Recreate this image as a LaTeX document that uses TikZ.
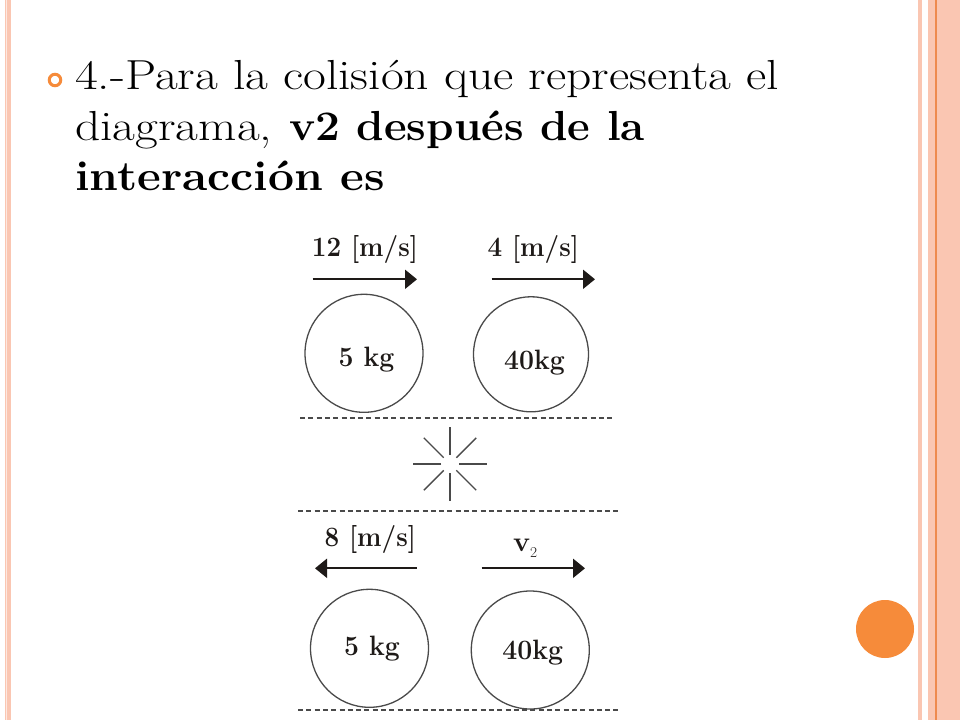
\documentclass[tikz,border=0pt]{standalone}
\usepackage{fontspec}
\usetikzlibrary{arrows.meta,calc}
\definecolor{slideorange}{HTML}{F68B3A}
\definecolor{borderpink}{HTML}{FAC6B2}
\definecolor{borderline}{HTML}{EE8A4E}
\definecolor{inkgray}{HTML}{4A4A4A}
\definecolor{inkdark}{HTML}{1E1A18}
\begin{document}
\begin{tikzpicture}[x=1pt,y=-1pt,
  ball/.style={circle, draw=inkgray, line width=1.3pt, minimum size=118pt, inner sep=0pt},
  masstext/.style={anchor=base, inner sep=0pt, font=\fontsize{28}{30}\selectfont\bfseries, xscale=0.95, transform shape, text=inkdark},
  vel/.style={draw=inkdark, line width=2pt, -{Triangle[length=12pt,width=19pt]}},
  lbl/.style={anchor=base, inner sep=0pt, font=\fontsize{28}{30}\selectfont\bfseries, xscale=0.93, transform shape, text=inkdark},
  ground/.style={draw=inkgray, line width=1.4pt, dash pattern=on 5pt off 3.3pt},
  ray/.style={draw=inkgray, line width=1.4pt},
  titleline/.style={anchor=base west, inner sep=0pt, font=\fontsize{42}{50}\selectfont, xscale=1.18, transform shape, text=black},
  titlebold/.style={anchor=base west, inner sep=0pt, font=\fontsize{42}{50}\selectfont\bfseries, xscale=1.05, transform shape, text=black}
]
\useasboundingbox (0,0) rectangle (960,720);
\fill[white] (0,0) rectangle (960,720);
% borders
\fill[borderpink] (5,0) rectangle (11,720);
\fill[white!60!borderpink] (6.3,0) rectangle (7.3,720);
\fill[borderpink] (917.5,0) rectangle (921.5,720);
\fill[borderpink] (928,0) rectangle (960,720);
\fill[borderline] (935,0) rectangle (936.5,720);
\node[circle, fill=slideorange, minimum size=58pt, inner sep=0pt] (dot) at (885,629) {};
% title
\node[circle, draw=slideorange, line width=3pt, minimum size=11.5pt, inner sep=0pt] (bullet) at (55,80) {};
\node[titleline] (l1) at (75,89.3) {4.-Para la colisión que representa el};
\node[titleline] (l2) at (75,140.7) {diagrama,};
\node[titlebold] (l2b) at (289,140.7) {v2 después de la};
\node[titlebold, xscale=1.048] (l3) at (75,190) {interacción es};
% before
\node[ball] (b1) at (364,353.3) {};
\node[ball, minimum size=115pt] (b2) at (531,354.3) {};
\node[masstext] (t1) at (366.5,366) {5 kg};
\node[masstext] (t2) at (534.5,369) {40kg};
\coordinate (a1s) at (312.7,279.3); \coordinate (a1e) at (417,279.3);
\coordinate (a2s) at (491.7,279.3); \coordinate (a2e) at (595,279.3);
\draw[vel] (a1s) -- (a1e);
\draw[vel] (a2s) -- (a2e);
\node[lbl] (v1) at (365,256) {12 [m/s]};
\node[lbl] (v2) at (533.3,256) {4 [m/s]};
\coordinate (g1s) at (300,418); \coordinate (g1e) at (612,418);
\draw[ground] (g1s) -- (g1e);
% collision star
\coordinate (star) at (450,464);
\foreach \ang in {0,45,...,315}{
  \draw[ray] ($(star)+(\ang:9)$) -- ($(star)+(\ang:37)$);
}
\coordinate (g2s) at (298,511); \coordinate (g2e) at (618,511);
\draw[ground] (g2s) -- (g2e);
% after
\node[ball] (b3) at (369.5,648.3) {};
\node[ball] (b4) at (530.3,650) {};
\node[masstext] (t3) at (372,655) {5 kg};
\node[masstext] (t4) at (532.8,659) {40kg};
\coordinate (a3s) at (416.7,568.3); \coordinate (a3e) at (315,568.3);
\coordinate (a4s) at (481.7,568.3); \coordinate (a4e) at (585,568.3);
\draw[vel] (a3s) -- (a3e);
\draw[vel] (a4s) -- (a4e);
\node[lbl] (v3) at (370.3,546.7) {8 [m/s]};
\node[lbl, anchor=base west, xscale=1.1] (v4) at (513,551.7) {v\raisebox{-0.45ex}{\fontsize{15}{16}\selectfont\mdseries 2}};
\coordinate (g3s) at (298,710); \coordinate (g3e) at (618,710);
\draw[ground] (g3s) -- (g3e);
\end{tikzpicture}
\end{document}
